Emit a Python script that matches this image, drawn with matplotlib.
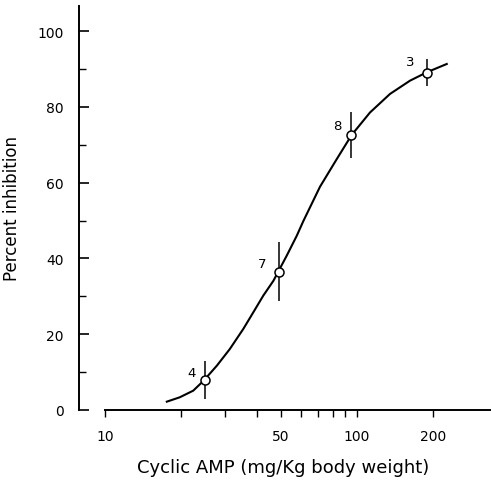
import numpy as np
import matplotlib.pyplot as plt

# ---------------- DATA ----------------
dose = [25, 49, 95, 190]            # mg/Kg
inhib = [7.8, 36.5, 72.6, 89.0]     # percent inhibition
err = [5.0, 7.8, 6.0, 3.5]
n_labels = ["4", "7", "8", "3"]
label_off = [(-10, 6), (-12, 6), (-10, 7), (-12, 8)]   # points

curve_x = [17.6, 19.8, 22.4, 24.6, 27.8, 31.3, 35.4, 38.8, 42.5, 46.6, 48.7, 52.6,
           57.7, 61.2, 71.3, 83.1, 95.3, 112.6, 135.2, 162.3, 189.1, 227]
curve_y = [2.2, 3.35, 5.1, 7.7, 11.7, 16.1, 21.4, 25.8, 30.2, 34.1, 36.5, 40.7,
           46.0, 49.8, 58.9, 66.2, 72.6, 78.5, 83.4, 86.9, 89.1, 91.3]

# ---------------- FIGURE ----------------
fig = plt.figure(figsize=(4.91, 4.81), dpi=100)
ax = fig.add_axes([79/491, 70/481, 411/491, 404/481])

ax.plot(curve_x, curve_y, color="black", lw=1.5, zorder=2,
        solid_joinstyle="round")
ax.errorbar(dose, inhib, yerr=err, fmt="none", ecolor="black", elinewidth=1.1,
            capsize=0, zorder=3)
ax.plot(dose, inhib, "o", ms=6.5, mfc="white", mec="black", mew=1.1, zorder=4)
for x, y, t, off in zip(dose, inhib, n_labels, label_off):
    ax.annotate(t, (x, y), xytext=off, textcoords="offset points",
                ha="center", va="center", fontsize=9.5)

ax.set_xscale("log")
ax.set_xlim(7.89, 337)
ax.set_ylim(0, 106.6)

for s in ["top", "right"]:
    ax.spines[s].set_visible(False)
ax.spines["bottom"].set_bounds(10, 337)
ax.spines["left"].set_linewidth(1.4)
ax.spines["bottom"].set_linewidth(1.4)

ax.set_xticks([10, 50, 100, 200])
ax.set_xticklabels(["10", "50", "100", "200"])
ax.set_xticks([20, 30, 40, 60, 70, 80, 90], minor=True)
ax.xaxis.set_minor_formatter(plt.NullFormatter())
ax.tick_params(axis="x", which="both", direction="out", length=5, width=1,
               labelsize=10, pad=9)

ax.set_yticks([0, 20, 40, 60, 80, 100])
ax.set_yticks([10, 30, 50, 70, 90], minor=True)
ax.tick_params(axis="y", which="major", direction="in", length=7, width=1.2,
               labelsize=10, pad=11)
ax.tick_params(axis="y", which="minor", direction="in", length=5, width=1)

ax.set_ylabel("Percent inhibition", fontsize=12)
ax.yaxis.set_label_coords(-0.14, 0.5)
ax.set_xlabel("Cyclic AMP (mg/Kg body weight)", fontsize=13)
ax.xaxis.set_label_coords(0.496, -0.12)

fig.savefig("out.png", dpi=100)
